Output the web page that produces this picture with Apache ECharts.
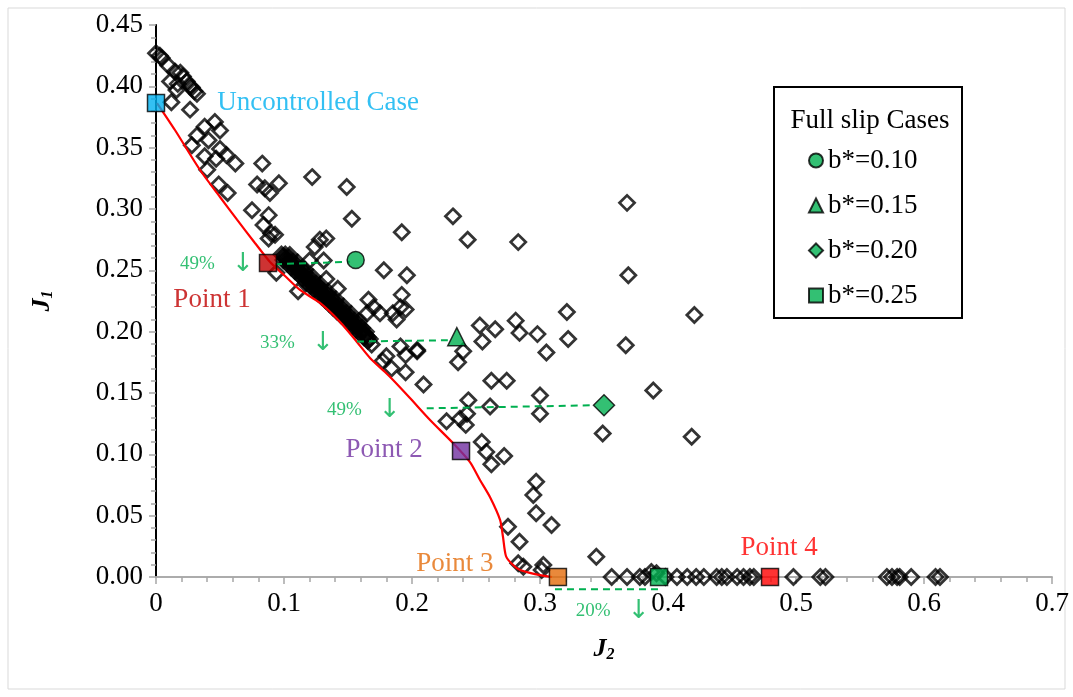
<!DOCTYPE html>
<html>
<head>
<meta charset="utf-8">
<script src="https://cdn.jsdelivr.net/npm/echarts@6/dist/echarts.min.js"></script>
<style>html,body{margin:0;padding:0;background:#fff}#c{width:1073px;height:697px}</style>
</head>
<body>
<div id="c"></div>
<script>
// ---------- DATA ----------
// All simulated control cases, [J2, J1]
const diamondCases = [
  // upper-left cluster
  [0.000,0.427],[0.003,0.425],[0.0045,0.423],[0.0096,0.417],[0.0148,0.412],[0.019,0.411],[0.021,0.408],
  [0.011,0.404],[0.017,0.402],[0.024,0.404],[0.0266,0.400],[0.028,0.399],[0.030,0.396],[0.032,0.394],
  [0.016,0.397],[0.012,0.387],[0.0266,0.381],[0.046,0.371],[0.038,0.367],[0.050,0.364],[0.032,0.360],
  [0.041,0.356],[0.028,0.352],[0.050,0.349],[0.038,0.343],[0.047,0.341],[0.055,0.344],[0.062,0.337],
  [0.040,0.332],[0.083,0.337],[0.049,0.320],[0.056,0.313],[0.079,0.320],[0.085,0.317],[0.089,0.313],
  [0.096,0.321],[0.122,0.326],[0.075,0.299],[0.088,0.295],[0.084,0.287],[0.090,0.280],[0.088,0.276],
  [0.093,0.279],
  // middle scattered
  [0.149,0.318],[0.153,0.292],[0.192,0.281],[0.133,0.276],[0.124,0.269],[0.128,0.275],[0.120,0.258],
  [0.131,0.258],[0.133,0.243],[0.142,0.235],[0.094,0.248],[0.111,0.233],[0.178,0.250],[0.196,0.246],
  [0.166,0.226],[0.170,0.220],[0.165,0.215],[0.175,0.215],[0.192,0.230],[0.191,0.220],[0.185,0.215],
  [0.188,0.210],[0.195,0.218],[0.191,0.188],[0.204,0.185],[0.180,0.180],
  // dense band (centre row)
  [0.0980,0.2630],[0.0995,0.2615],[0.1010,0.2600],[0.1025,0.2585],[0.1040,0.2570],[0.1055,0.2555],
  [0.1070,0.2540],[0.1085,0.2525],[0.1100,0.2510],[0.1115,0.2495],[0.1130,0.2480],[0.1145,0.2465],
  [0.1160,0.2450],[0.1175,0.2435],[0.1190,0.2420],[0.1205,0.2405],[0.1220,0.2390],[0.1235,0.2375],
  [0.1250,0.2360],[0.1265,0.2345],[0.1280,0.2330],[0.1295,0.2315],[0.1310,0.2300],[0.1325,0.2285],
  [0.1340,0.2270],[0.1355,0.2255],[0.1370,0.2240],[0.1385,0.2225],[0.1400,0.2210],[0.1415,0.2195],
  [0.1430,0.2180],[0.1445,0.2165],[0.1460,0.2150],[0.1475,0.2135],[0.1490,0.2120],[0.1505,0.2105],
  [0.1520,0.2090],[0.1535,0.2075],[0.1550,0.2060],[0.1565,0.2045],[0.1580,0.2030],[0.1595,0.2015],
  [0.1610,0.2000],[0.1625,0.1985],[0.1640,0.1970],[0.1655,0.1955],[0.1670,0.1940],
  // dense band (upper row)
  [0.101,0.263],[0.104,0.260],[0.107,0.257],[0.110,0.254],[0.113,0.251],[0.116,0.248],[0.119,0.245],
  [0.122,0.242],[0.125,0.239],[0.128,0.236],[0.131,0.233],[0.134,0.230],[0.137,0.227],[0.140,0.224],
  [0.143,0.221],[0.146,0.218],[0.149,0.215],[0.152,0.212],[0.155,0.209],[0.158,0.206],[0.161,0.203],
  [0.164,0.200],
  // dense band (outer upper row)
  [0.1045,0.2625],[0.1105,0.2565],[0.1165,0.2505],[0.1225,0.2445],[0.1285,0.2385],[0.1345,0.2325],
  [0.1405,0.2265],[0.1465,0.2205],[0.1525,0.2145],[0.1585,0.2085],
  // dense band (lower row)
  [0.0995,0.2585],[0.1025,0.2555],[0.1055,0.2525],[0.1085,0.2495],[0.1115,0.2465],[0.1145,0.2435],
  [0.1175,0.2405],[0.1205,0.2375],[0.1235,0.2345],[0.1265,0.2315],[0.1295,0.2285],[0.1325,0.2255],
  [0.1355,0.2225],[0.1385,0.2195],[0.1415,0.2165],[0.1445,0.2135],[0.1475,0.2105],[0.1505,0.2075],
  [0.1535,0.2045],[0.1565,0.2015],[0.1595,0.1985],[0.1625,0.1955],[0.1655,0.1925],[0.1685,0.1895],
  // right-hand scattered
  [0.232,0.294],[0.2435,0.275],[0.283,0.273],[0.368,0.305],[0.369,0.246],[0.321,0.216],[0.253,0.205],
  [0.265,0.202],[0.281,0.209],[0.284,0.199],[0.298,0.198],[0.322,0.194],[0.255,0.192],[0.367,0.189],
  [0.240,0.184],[0.305,0.183],[0.236,0.175],[0.195,0.181],[0.204,0.184],[0.195,0.167],[0.262,0.160],
  [0.274,0.160],[0.209,0.157],[0.177,0.176],[0.184,0.170],[0.4206,0.2136],[0.3885,0.152],[0.349,0.117],
  [0.4185,0.1144],
  // lower scattered
  [0.244,0.144],[0.261,0.139],[0.300,0.148],[0.300,0.133],[0.227,0.127],[0.2375,0.129],[0.243,0.133],
  [0.242,0.124],[0.2545,0.110],[0.258,0.102],[0.272,0.0986],[0.262,0.092],[0.297,0.0777],[0.2948,0.0668],
  [0.297,0.052],[0.309,0.0424],[0.275,0.041],[0.284,0.0288],[0.344,0.0165],[0.283,0.0112],[0.287,0.0084],
  [0.3026,0.0098],[0.3013,0.0057],
  // J1 = 0 row
  [0.356,0],[0.368,0],[0.378,0],[0.382,0],[0.387,0.004],[0.391,0.003],[0.398,0],[0.407,0],[0.415,0],
  [0.422,0],[0.428,0],[0.438,0],[0.442,0],[0.446,0],[0.454,0],[0.459,0],[0.464,0],[0.467,0],[0.498,0],
  [0.519,0],[0.523,0],[0.571,0],[0.575,0],[0.579,0],[0.581,0],[0.590,0],[0.609,0],[0.6125,0]
];

// Pareto-like front (red curve), [J2, J1]
const frontCurve = [
  [0.0008,0.3864],[0.0148,0.3644],[0.0344,0.3318],[0.05,0.3098],[0.0633,0.2913],[0.0773,0.2723],
  [0.0891,0.2568],[0.1008,0.2454],[0.1125,0.234],[0.1281,0.2234],[0.1438,0.2079],[0.157,0.1916],
  [0.1672,0.1786],[0.1789,0.1671],[0.1852,0.1606],[0.1984,0.1459],[0.2141,0.128],[0.232,0.1092],
  [0.2453,0.0937],[0.2531,0.0791],[0.2609,0.0652],[0.2688,0.0465],[0.2711,0.0326],[0.2734,0.0171],
  [0.2781,0.0106],[0.2844,0.0057],[0.2961,0.0024],[0.3094,0.0]
];

// Highlighted cases
const caseNames = ['Uncontrolled Case','Point 1','Point 2','Point 3','Point 4'];
const caseJ2 = [0.0, 0.0875, 0.2383, 0.314, 0.4797];
const caseJ1 = [0.3864, 0.256, 0.1027, 0.0, 0.0];

// Full slip cases
const slipNames = ['b*=0.10','b*=0.15','b*=0.20','b*=0.25'];
const slipJ2 = [0.156, 0.235, 0.350, 0.393];
const slipJ1 = [0.2584, 0.1959, 0.140, 0.0];

// Reduction links (dashed) and their labels
const linkFromJ2 = [0.093, 0.157, 0.2115, 0.3117];
const linkToJ2   = [0.1516, 0.228, 0.3417, 0.3924];
const linkFromJ1 = [0.255, 0.192, 0.1375, -0.010];
const linkToJ1   = [0.257, 0.193, 0.140, -0.010];
const reductionText = ['49%','33%','49%','20%'];
const reductionJ2 = [0.0188, 0.0813, 0.1336, 0.328];
const reductionJ1 = [0.2552, 0.1908, 0.1361, -0.0277];

// Axis ticks
const xTicks = {min:0, max:0.7, step:0.1};
const yTicks = {min:0, max:0.45, step:0.05};

// ---------- STYLES ----------
const SERIF = 'Liberation Serif';
const GREEN = '#00B050';
const AXIS_GRAY = '#A6A6A6';
const FS = 27;
const caseStyle = {
  'Uncontrolled Case': {color:'#00B0F0', label:{position:'right', distance:52}},
  'Point 1': {color:'#C00000', label:{position:'inside', offset:[-56,37]}},
  'Point 2': {color:'#7030A0', label:{position:'inside', offset:[-77,-1]}},
  'Point 3': {color:'#E46C0A', label:{position:'inside', offset:[-103,-13]}},
  'Point 4': {color:'#FF0000', label:{position:'inside', offset:[9,-29]}}
};
const slipSymbol = {'b*=0.10':['circle',17], 'b*=0.15':['triangle',18], 'b*=0.20':['diamond',21], 'b*=0.25':['rect',17]};

const nameRich = {
  j:{fontFamily:SERIF, fontSize:26, fontWeight:'bold', fontStyle:'italic', color:'#000'},
  s:{fontFamily:SERIF, fontSize:16, fontWeight:'bold', fontStyle:'italic', color:'#000', padding:[12,0,0,0]}
};

const series = [];
series.push({
  type:'scatter', name:'cases', data:diamondCases, symbol:'diamond', symbolSize:15, clip:false, z:2,
  itemStyle:{color:'rgba(255,255,255,0)', borderColor:'#000', borderWidth:2.8}, emphasis:{disabled:true}, silent:true
});
series.push({
  type:'line', name:'front', data:frontCurve, showSymbol:false, symbol:'none', smooth:0.25, z:3,
  lineStyle:{color:'#FF0000', width:2.2}, silent:true
});
for (let i=0;i<linkFromJ2.length;i++){
  series.push({
    type:'line', name:'link'+i, data:[[linkFromJ2[i],linkFromJ1[i]],[linkToJ2[i],linkToJ1[i]]],
    symbol:'none', clip:false, z:3, silent:true,
    lineStyle:{color:GREEN, width:2, type:[7,5]}
  });
}
series.push({
  type:'scatter', name:'reductions', clip:false, z:4, silent:true, symbolSize:0,
  data:reductionText.map((t,i)=>[reductionJ2[i], reductionJ1[i]]),
  label:{show:true, position:'inside', align:'left', verticalAlign:'middle',
    formatter:p=>'{p|'+reductionText[p.dataIndex]+'}{a|↓}',
    rich:{p:{fontFamily:SERIF, fontSize:19, color:GREEN}, a:{fontFamily:'DejaVu Sans', fontSize:26, color:GREEN, padding:[0,0,0,17]}}}
});
slipNames.forEach((n,i)=>{
  series.push({
    type:'scatter', name:n, data:[[slipJ2[i], slipJ1[i]]], symbol:slipSymbol[n][0], symbolSize:slipSymbol[n][1],
    clip:false, z:6, silent:true,
    itemStyle:{color:GREEN, borderColor:'#000', borderWidth:1.5}
  });
});
caseNames.forEach((n,i)=>{
  const st = caseStyle[n];
  series.push({
    type:'scatter', name:n, data:[[caseJ2[i], caseJ1[i]]], symbol:'rect', symbolSize:17, clip:false, z:7, silent:true,
    itemStyle:{color:st.color, borderColor:'#000', borderWidth:1.5},
    label:Object.assign({show:true, formatter:n, fontFamily:SERIF, fontSize:FS, color:st.color}, st.label)
  });
});

const option = {
  animation:false,
  backgroundColor:'#fff',
  grid:{left:156, right:21, top:25, bottom:120, containLabel:false, outerBoundsMode:'none'},
  legend:{
    data:slipNames, orient:'vertical', left:808, top:147, itemGap:18, itemWidth:14, itemHeight:14,
    padding:0, selectedMode:false,
    textStyle:{fontFamily:SERIF, fontSize:FS, color:'#000'}
  },
  xAxis:[{
    type:'value', min:xTicks.min, max:xTicks.max, interval:xTicks.step,
    axisLine:{show:true, onZero:false, lineStyle:{color:AXIS_GRAY, width:1.5}},
    axisTick:{show:true, inside:false, length:7, lineStyle:{color:AXIS_GRAY, width:1.5}},
    minorTick:{show:true, splitNumber:5, length:5, lineStyle:{color:AXIS_GRAY, width:1.5}},
    splitLine:{show:false},
    axisLabel:{fontFamily:SERIF, fontSize:FS, color:'#000', margin:13,
      formatter:v=> v===0 ? '0' : v.toFixed(1)},
    name:'{j|J}{s|2}', nameLocation:'middle', nameGap:58, nameTextStyle:{rich:nameRich}
  },{
    type:'value', position:'top', min:xTicks.min, max:xTicks.max,
    axisLine:{show:true, lineStyle:{color:AXIS_GRAY, width:1.5}}, axisTick:{show:false},
    axisLabel:{show:false}, splitLine:{show:false}
  }],
  yAxis:[{
    type:'value', min:yTicks.min, max:yTicks.max, interval:yTicks.step,
    axisLine:{show:true, onZero:false, lineStyle:{color:AXIS_GRAY, width:1.5}},
    axisTick:{show:true, inside:false, length:7, lineStyle:{color:AXIS_GRAY, width:1.5}},
    minorTick:{show:true, splitNumber:5, length:5, lineStyle:{color:AXIS_GRAY, width:1.5}},
    splitLine:{show:false},
    axisLabel:{fontFamily:SERIF, fontSize:FS, color:'#000', margin:13, formatter:v=>v.toFixed(2)},
    name:'{j|J}{s|1}', nameLocation:'middle', nameRotate:90, nameGap:100, nameTextStyle:{rich:nameRich}
  },{
    type:'value', position:'right', min:yTicks.min, max:yTicks.max,
    axisLine:{show:true, lineStyle:{color:'#000', width:2}}, axisTick:{show:false},
    axisLabel:{show:false}, splitLine:{show:false}
  }],
  graphic:[
    {type:'rect', shape:{x:8, y:8, width:1057, height:681}, style:{fill:'none', stroke:'#D9D9D9', lineWidth:1}, silent:true, z:0},
    {type:'rect', shape:{x:774, y:87, width:188, height:231}, style:{fill:'none', stroke:'#000', lineWidth:2}, silent:true, z:10},
    {type:'text', x:870, y:121, style:{text:'Full slip Cases', fontFamily:SERIF, fontSize:FS, fill:'#000', align:'center', verticalAlign:'middle'}, silent:true, z:10}
  ],
  series:series
};

const chart = echarts.init(document.getElementById('c'), null, {renderer:'canvas'});
chart.setOption(option);
</script>
</body>
</html>
